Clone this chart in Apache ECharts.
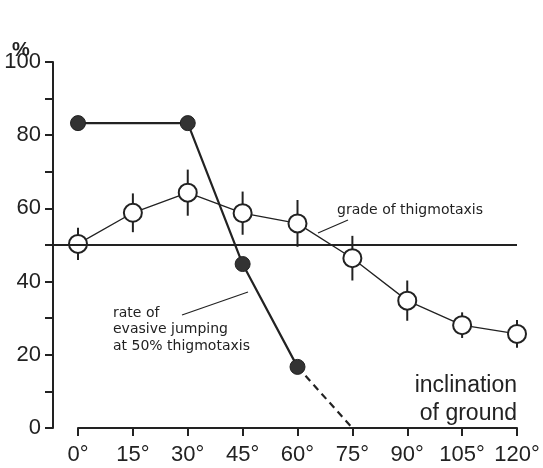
<!DOCTYPE html>
<html><head><meta charset="utf-8">
<script src="https://cdn.jsdelivr.net/npm/echarts@6/dist/echarts.min.js"></script>
<style>html,body{margin:0;padding:0;background:#fff}#c{width:543px;height:468px}</style>
</head><body><div id="c"></div>
<script>
// ---- data ----
const angles = [0, 15, 30, 45, 60, 75, 90, 105, 120];
const angleLabels = ['0°', '15°', '30°', '45°', '60°', '75°', '90°', '105°', '120°'];
const thigmo = [50.3, 58.8, 64.3, 58.7, 55.9, 46.4, 34.8, 28.1, 25.7];
const thigmoErr = [4.4, 5.3, 6.3, 5.9, 6.4, 6.1, 5.5, 3.5, 3.8];
const jumpAngles = [0, 30, 45, 60];
const jumpRate = [83.3, 83.3, 44.8, 16.7];
const extrapAngles = [60, 75];
const extrapRate = [16.7, 0];
const refLevel = 50;
const yLabelled = [0, 20, 40, 60, 80, 100];

const INK = '#222';
const chart = echarts.init(document.getElementById('c'), null, {renderer: 'canvas'});

const thigmoPts = angles.map((a, i) => [a, thigmo[i]]);
const errPts = angles.map((a, i) => [a, thigmo[i] - thigmoErr[i], thigmo[i] + thigmoErr[i]]);
const jumpPts = jumpAngles.map((a, i) => [a, jumpRate[i]]);
const extrapPts = extrapAngles.map((a, i) => [a, extrapRate[i]]);
const labelMap = {};
angles.forEach((a, i) => labelMap[a] = angleLabels[i]);

const option = {
  backgroundColor: '#fff',
  animation: false,
  textStyle: {fontFamily: 'Liberation Sans'},
  grid: [
    {left: 53, right: 26, top: 62, bottom: 40},
    {left: 78, right: 26, top: 62, bottom: 40}
  ],
  xAxis: [
    {gridIndex: 0, type: 'value', min: -6.83, max: 120, show: false},
    {gridIndex: 1, type: 'value', min: 0, max: 120, interval: 15,
     axisLine: {show: true, onZero: false, lineStyle: {color: INK, width: 2}},
     axisTick: {show: true, length: 8, lineStyle: {color: INK, width: 2}},
     axisLabel: {color: INK, fontSize: 22, margin: 16, formatter: v => labelMap[v] || ''},
     splitLine: {show: false}}
  ],
  yAxis: [
    {gridIndex: 0, type: 'value', min: 0, max: 100, interval: 10,
     axisLine: {show: true, onZero: false, lineStyle: {color: INK, width: 2}},
     axisTick: {show: true, length: 8, lineStyle: {color: INK, width: 2}},
     axisLabel: {color: INK, fontSize: 22, margin: 12,
       formatter: v => yLabelled.indexOf(v) >= 0 ? String(v) : ''},
     splitLine: {show: false}},
    {gridIndex: 1, type: 'value', min: 0, max: 100, show: false}
  ],
  series: [
    {type: 'line', xAxisIndex: 0, yAxisIndex: 0, data: [], symbol: 'none',
     markLine: {silent: true, symbol: 'none', label: {show: false},
       lineStyle: {color: INK, width: 2, type: 'solid'},
       data: [{yAxis: refLevel}]}},
    {type: 'custom', xAxisIndex: 1, yAxisIndex: 1, data: errPts, z: 3,
     renderItem: (params, api) => {
       const lo = api.coord([api.value(0), api.value(1)]);
       const hi = api.coord([api.value(0), api.value(2)]);
       return {type: 'line', shape: {x1: lo[0], y1: lo[1], x2: hi[0], y2: hi[1]},
         style: {stroke: INK, lineWidth: 2}};
     }},
    {type: 'line', xAxisIndex: 1, yAxisIndex: 1, data: thigmoPts, z: 4,
     symbol: 'circle', symbolSize: 18, showAllSymbol: true,
     lineStyle: {color: INK, width: 1.3},
     itemStyle: {color: '#fff', borderColor: INK, borderWidth: 2}},
    {type: 'line', xAxisIndex: 1, yAxisIndex: 1, data: extrapPts, z: 5,
     symbol: 'none', lineStyle: {color: INK, width: 2.2, type: [7, 5]}},
    {type: 'line', xAxisIndex: 1, yAxisIndex: 1, data: jumpPts, z: 6,
     symbol: 'circle', symbolSize: 15, showAllSymbol: true,
     lineStyle: {color: INK, width: 2.2},
     itemStyle: {color: '#333', borderColor: INK, borderWidth: 1}}
  ],
  graphic: [
    {type: 'text', left: 12, top: 40, style: {text: '%', fontSize: 20, fontWeight: 'bold', fill: INK, fontFamily: 'Liberation Sans'}},
    {type: 'text', right: 26, top: 374, style: {text: 'inclination', fontSize: 23, fill: INK, fontFamily: 'Liberation Sans', textAlign: 'right'}},
    {type: 'text', right: 26, top: 402, style: {text: 'of ground', fontSize: 23, fill: INK, fontFamily: 'Liberation Sans', textAlign: 'right'}},
    {type: 'text', left: 337, top: 203, style: {text: 'grade of thigmotaxis', fontSize: 14, fill: INK, fontFamily: 'DejaVu Sans'}},
    {type: 'line', shape: {x1: 318, y1: 233, x2: 348, y2: 220}, style: {stroke: INK, lineWidth: 1.2}},
    {type: 'text', left: 113, top: 305, style: {text: 'rate of\nevasive jumping\nat 50% thigmotaxis', fontSize: 14, lineHeight: 16.5, fill: INK, fontFamily: 'DejaVu Sans'}},
    {type: 'line', shape: {x1: 182, y1: 315, x2: 248, y2: 292}, style: {stroke: INK, lineWidth: 1.2}}
  ]
};
chart.setOption(option);
</script>
</body></html>
